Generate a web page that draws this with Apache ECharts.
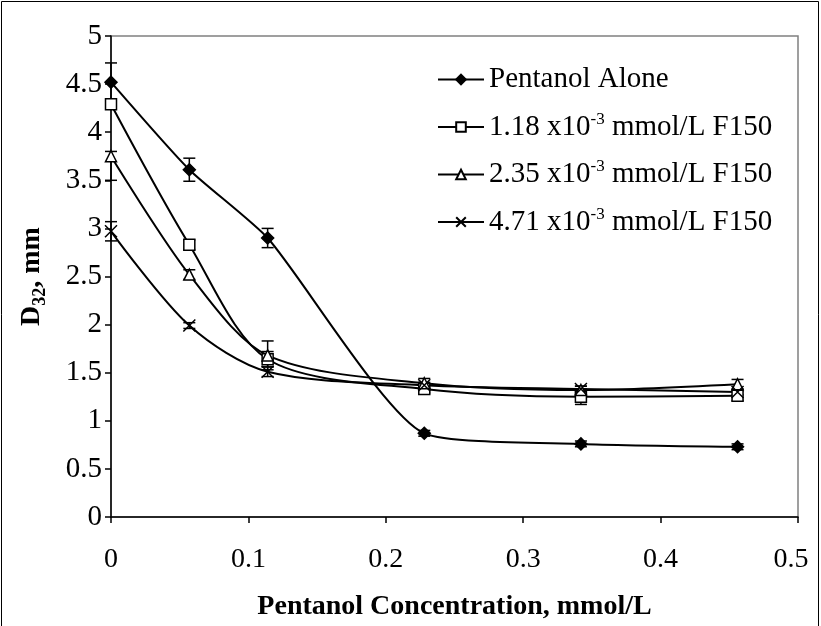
<!DOCTYPE html>
<html><head><meta charset="utf-8">
<script src="https://cdn.jsdelivr.net/npm/echarts@6/dist/echarts.min.js"></script>
<style>html,body{margin:0;padding:0;background:#fff}#c{width:821px;height:626px}</style>
</head><body><div id="c"></div>
<script>
var xValues = [0, 0.057, 0.114, 0.228, 0.342, 0.456];
var seriesNames = ['Pentanol Alone', '1.18 x10-3 mmol/L F150', '2.35 x10-3 mmol/L F150', '4.71 x10-3 mmol/L F150'];
var alone = [4.52, 3.61, 2.90, 0.87, 0.76, 0.73];
var aloneErrMinus = [0.20, 0.12, 0.10, 0.03, 0.03, 0.03];
var aloneErrPlus = [0.20, 0.12, 0.10, 0.03, 0.03, 0.03];
var f118 = [4.29, 2.83, 1.64, 1.33, 1.25, 1.26];
var f118ErrMinus = [0.05, 0.05, 0.08, 0.04, 0.08, 0.05];
var f118ErrPlus = [0.05, 0.05, 0.08, 0.04, 0.08, 0.05];
var f235 = [3.75, 2.52, 1.68, 1.39, 1.32, 1.38];
var f235ErrMinus = [0.25, 0.05, 0.15, 0.05, 0.04, 0.05];
var f235ErrPlus = [0.05, 0.05, 0.15, 0.05, 0.04, 0.05];
var f471 = [2.97, 1.99, 1.51, 1.37, 1.33, 1.30];
var f471ErrMinus = [0.10, 0.03, 0.05, 0.03, 0.03, 0.03];
var f471ErrPlus = [0.10, 0.03, 0.05, 0.03, 0.03, 0.03];
var xTicks = ['0', '0.1', '0.2', '0.3', '0.4', '0.5'];
var yTicks = ['0', '0.5', '1', '1.5', '2', '2.5', '3', '3.5', '4', '4.5', '5'];

var FONT = '"Liberation Serif", "Times New Roman", serif';
function pairs(v) { return xValues.map(function (x, i) { return [x, v[i]]; }); }
function errData(v, em, ep) { return xValues.map(function (x, i) { return [x, v[i] - em[i], v[i] + ep[i]]; }); }
function errSeries(v, em, ep) {
  return {
    type: 'custom', silent: true, z: 3,
    data: errData(v, em, ep),
    renderItem: function (params, api) {
      var lo = api.coord([api.value(0), api.value(1)]);
      var hi = api.coord([api.value(0), api.value(2)]);
      var w = 6;
      var st = { stroke: '#000', lineWidth: 1.5 };
      return { type: 'group', children: [
        { type: 'line', shape: { x1: lo[0], y1: lo[1], x2: hi[0], y2: hi[1] }, style: st },
        { type: 'line', shape: { x1: lo[0] - w, y1: lo[1], x2: lo[0] + w, y2: lo[1] }, style: st },
        { type: 'line', shape: { x1: hi[0] - w, y1: hi[1], x2: hi[0] + w, y2: hi[1] }, style: st }
      ] };
    }
  };
}
function lineSeries(name, v, symbol, size, fill, smooth) {
  return {
    name: name, type: 'line', data: pairs(v), smooth: smooth, z: 4,
    symbol: symbol, symbolSize: size, showSymbol: true,
    lineStyle: { color: '#000', width: 2 },
    itemStyle: { color: fill, borderColor: '#000', borderWidth: 1.5 }
  };
}
var crossPath = 'path://M0,0L10,10M10,0L0,10';

var chart = echarts.init(document.getElementById('c'), null, { renderer: 'canvas' });
chart.setOption({
  animation: false,
  backgroundColor: '#fff',
  graphic: [{ type: 'rect', shape: { x: 1.5, y: 1.5, width: 817, height: 640 }, style: { fill: 'none', stroke: '#000', lineWidth: 1 }, z: -1 }],
  grid: { left: 111, right: 23, top: 36, bottom: 109, show: true, borderColor: '#808080', borderWidth: 1.5 },
  xAxis: {
    type: 'value', min: 0, max: 0.5, interval: 0.1,
    name: 'Pentanol Concentration, mmol/L', nameLocation: 'middle', nameGap: 76,
    nameTextStyle: { fontFamily: FONT, fontSize: 28, fontWeight: 'bold', color: '#000' },
    axisLine: { lineStyle: { color: '#000', width: 1.5 } },
    axisTick: { show: true, length: 6, lineStyle: { color: '#000', width: 1.5 } },
    axisLabel: { fontFamily: FONT, fontSize: 28, color: '#000', margin: 29,
      formatter: function (v) {
        var i = Math.round(v * 10);
        return i === xTicks.length - 1 ? '{r|' + xTicks[i] + '}' : xTicks[i];
      },
      rich: { r: { fontFamily: FONT, fontSize: 28, color: '#000', padding: [0, 14, 0, 0] } } },
    splitLine: { show: false }
  },
  yAxis: {
    type: 'value', min: 0, max: 5, interval: 0.5,
    name: '{b|D}{s|32}{b|, mm}', nameLocation: 'middle', nameGap: 62, nameRotate: 90,
    nameTextStyle: { fontFamily: FONT, color: '#000',
      rich: { b: { fontFamily: FONT, fontSize: 28, fontWeight: 'bold', color: '#000', lineHeight: 34, verticalAlign: 'middle' },
              s: { fontFamily: FONT, fontSize: 18, fontWeight: 'bold', color: '#000', lineHeight: 34, verticalAlign: 'bottom' } } },
    axisLine: { show: true, lineStyle: { color: '#000', width: 1.5 } },
    axisTick: { show: true, length: 6, lineStyle: { color: '#000', width: 1.5 } },
    axisLabel: { fontFamily: FONT, fontSize: 29, color: '#000', margin: 9,
      formatter: function (v) { return yTicks[Math.round(v * 2)]; } },
    splitLine: { show: false }
  },
  legend: {
    orient: 'vertical', left: 432, top: 60, itemWidth: 46, itemHeight: 12, itemGap: 17,
    data: seriesNames,
    formatter: function (n) {
      var m = n.match(/^(.*x10)(-3)(.*)$/);
      if (m) return '{t|' + m[1] + '}{sup|' + m[2] + '}{t|' + m[3] + '}';
      return '{t|' + n + '}';
    },
    textStyle: { fontFamily: FONT, color: '#000',
      rich: { t: { fontFamily: FONT, fontSize: 29, color: '#000', lineHeight: 32, verticalAlign: 'middle' },
              sup: { fontFamily: FONT, fontSize: 17, color: '#000', lineHeight: 32, verticalAlign: 'top' } } }
  },
  series: [
    errSeries(alone, aloneErrMinus, aloneErrPlus), errSeries(f118, f118ErrMinus, f118ErrPlus),
    errSeries(f235, f235ErrMinus, f235ErrPlus), errSeries(f471, f471ErrMinus, f471ErrPlus),
    lineSeries(seriesNames[0], alone, 'diamond', 12, '#000', 0.2),
    lineSeries(seriesNames[1], f118, 'rect', 11, '#fff', 0.3),
    lineSeries(seriesNames[2], f235, 'triangle', 11, '#fff', 0.3),
    lineSeries(seriesNames[3], f471, crossPath, 12, 'none', 0.3)
  ]
});
</script></body></html>
